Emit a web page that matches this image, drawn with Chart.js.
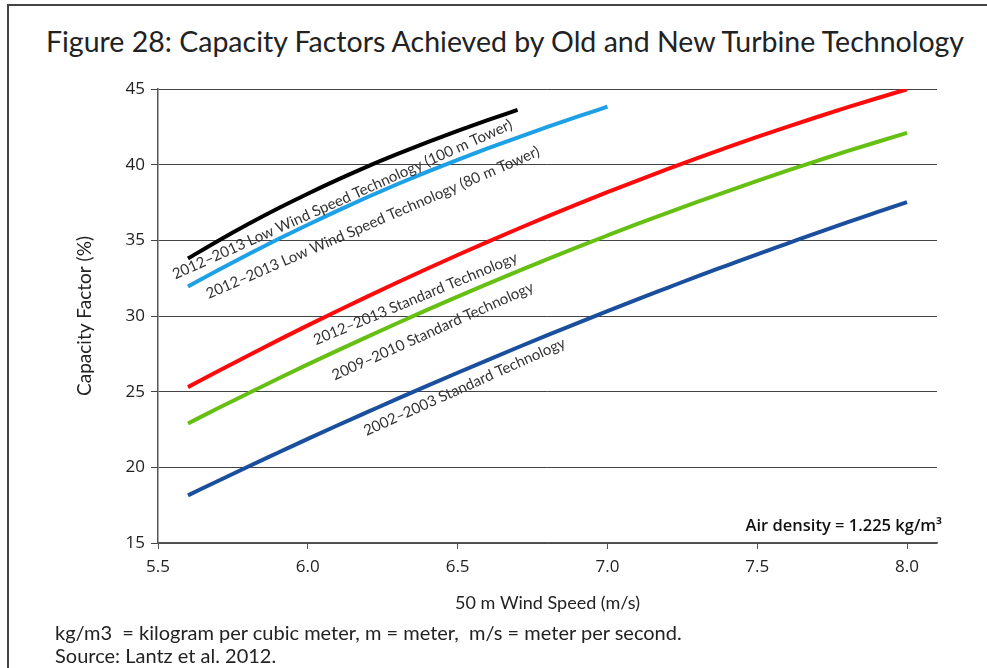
<!DOCTYPE html>
<html><head><meta charset="utf-8">
<script src="https://cdn.jsdelivr.net/npm/chart.js@4.4.1/dist/chart.umd.min.js"></script>
<style>
html,body{margin:0;padding:0;background:#fff;}
#wrap{position:relative;width:987px;height:668px;overflow:hidden;font-family:Lato,"Open Sans",sans-serif;color:#222;}
#frame{position:absolute;left:7px;top:4px;width:1000px;height:700px;border-left:2px solid #444;border-top:2px solid #444;}
#title{position:absolute;left:0;width:1010px;top:24px;text-align:center;font-size:28.5px;line-height:34px;white-space:nowrap;}
.note{position:absolute;left:55px;font-size:20px;line-height:23px;white-space:nowrap;}
#cwrap{position:absolute;left:0;top:0;width:987px;height:668px;}
</style></head>
<body><div id="wrap">
<div id="frame"></div>
<div id="title">Figure 28: Capacity Factors Achieved by Old and New Turbine Technology</div>
<div id="cwrap"><canvas id="c" width="987" height="668"></canvas></div>
<div class="note" style="top:621px">kg/m3&nbsp; = kilogram per cubic meter, m = meter,&nbsp; m/s = meter per second.</div>
<div class="note" style="top:644px">Source: Lantz et al. 2012.</div>
</div>
<script>
// ---- data ----
const speedStd = [5.6,5.7,5.8,5.9,6.0,6.1,6.2,6.3,6.4,6.5,6.6,6.7,6.8,6.9,7.0,7.1,7.2,7.3,7.4,7.5,7.6,7.7,7.8,7.9,8.0];
const speed80 = [5.6,5.7,5.8,5.9,6.0,6.1,6.2,6.3,6.4,6.5,6.6,6.7,6.8,6.9,7.0];
const speed100 = [5.6,5.7,5.8,5.9,6.0,6.1,6.2,6.3,6.4,6.5,6.6,6.7];

const cfLow100 = [33.8,34.96,36.06,37.1,38.08,39.01,39.89,40.71,41.49,42.23,42.94,43.62];
const cfLow80 = [31.95,33.03,34.07,35.07,36.03,36.96,37.86,38.72,39.54,40.32,41.07,41.79,42.49,43.17,43.83];
const cfStd2012 = [25.3,26.35,27.38,28.39,29.38,30.35,31.3,32.23,33.14,34.03,34.9,35.75,36.58,37.39,38.18,38.95,39.7,40.43,41.14,41.83,42.5,43.15,43.78,44.39,44.98];
const cfStd2009 = [22.9,23.9,24.88,25.85,26.8,27.73,28.64,29.54,30.42,31.28,32.12,32.95,33.76,34.55,35.32,36.08,36.82,37.54,38.24,38.93,39.6,40.25,40.89,41.5,42.1];
const cfStd2002 = [18.15,19.1,20.04,20.96,21.88,22.78,23.66,24.54,25.4,26.25,27.09,27.92,28.73,29.53,30.32,31.1,31.86,32.62,33.35,34.08,34.79,35.5,36.19,36.86,37.53];

const seriesNames = [
  "2012–2013 Low Wind Speed Technology (100 m Tower)",
  "2012–2013 Low Wind Speed Technology (80 m Tower)",
  "2012–2013 Standard Technology",
  "2009–2010 Standard Technology",
  "2002–2003 Standard Technology"
];
const xTickValues = [5.5,6.0,6.5,7.0,7.5,8.0];
const xTickLabels = ["5.5","6.0","6.5","7.0","7.5","8.0"];
const yTickValues = [15,20,25,30,35,40,45];
const yTickLabels = ["15","20","25","30","35","40","45"];

// label anchors (data coordinates) and rotation for curve labels
const labelX = [6.115,6.217,6.359,6.417,6.523];
const labelY = [37.7,36.17,31.14,29.0,25.32];
const labelAngle = [-24.1,-23.4,-22.5,-24.2,-24.1];
const noteText = "Air density = 1.225 kg/m³";

// ---- chart ----
const colors = ['#000000','#1ea0e6','#ff0a0a','#66c014','#1a4f9e'];
const xs = [speed100, speed80, speedStd, speedStd, speedStd];
const ys = [cfLow100, cfLow80, cfStd2012, cfStd2009, cfStd2002];
const datasets = ys.map((arr,i)=>({
  label: seriesNames[i],
  data: arr.map((v,j)=>({x: xs[i][j], y: v})),
  borderColor: colors[i],
  borderWidth: 4,
  pointRadius: 0,
  cubicInterpolationMode: 'monotone',
  fill: false,
  borderCapStyle: 'butt'
}));

const labelPlugin = {
  id: 'curveLabels',
  afterDatasetsDraw(chart){
    const ctx = chart.ctx, xS = chart.scales.x, yS = chart.scales.y;
    ctx.save();
    ctx.fillStyle = '#333';
    ctx.font = '15px Lato, "Open Sans", sans-serif';
    ctx.textAlign = 'center';
    ctx.textBaseline = 'middle';
    seriesNames.forEach((t,i)=>{
      const px = xS.getPixelForValue(labelX[i]);
      const py = yS.getPixelForValue(labelY[i]);
      ctx.save();
      ctx.translate(px,py);
      ctx.rotate(labelAngle[i]*Math.PI/180);
      ctx.fillText(t,0,0);
      ctx.restore();
    });
    ctx.font = '600 16.5px "Open Sans", sans-serif';
    ctx.fillStyle = '#111';
    ctx.textAlign = 'right';
    ctx.fillText(noteText, xS.getPixelForValue(8.117), yS.getPixelForValue(16.1));
    ctx.restore();
  }
};

new Chart(document.getElementById('c'), {
  type: 'line',
  data: { datasets },
  plugins: [labelPlugin],
  options: {
    responsive: false,
    animation: false,
    events: [],
    layout: { padding: { left: 73.6, top: 89, right: 50, bottom: 54.2 } },
    plugins: { legend: { display: false }, tooltip: { enabled: false }, title: { display: false } },
    scales: {
      x: {
        type: 'linear', min: 5.5, max: 8.1,
        afterBuildTicks: s => { s.ticks = xTickValues.map(v=>({value:v})); },
        afterFit: s => { s.height = 70.8; },
        ticks: { callback: (v)=> xTickLabels[xTickValues.indexOf(v)] ?? '', color:'#222', font:{family:'"Open Sans", sans-serif', size:17}, padding: 8, maxRotation:0 },
        grid: { drawOnChartArea: false, drawTicks: true, tickLength: 6, color: '#555', lineWidth: 1 },
        border: { color: '#555', width: 1.5 },
        title: { display: true, text: '50 m Wind Speed (m/s)', color:'#222', font:{family:'Lato, sans-serif', size:18}, padding: 0 }
      },
      y: {
        type: 'linear', min: 15, max: 45,
        afterBuildTicks: s => { s.ticks = yTickValues.map(v=>({value:v})); },
        afterFit: s => { s.width = 84.4; },
        ticks: { callback: (v)=> yTickLabels[yTickValues.indexOf(v)] ?? '', color:'#222', font:{family:'"Open Sans", sans-serif', size:17}, padding: 6 },
        grid: { drawOnChartArea: true, drawTicks: true, tickLength: 7, color: '#444', lineWidth: 1 },
        border: { color: '#555', width: 1.5 },
        title: { display: true, text: 'Capacity Factor (%)', color:'#222', font:{family:'Lato, sans-serif', size:19}, padding: 0 }
      }
    }
  }
});
</script>
</body></html>
